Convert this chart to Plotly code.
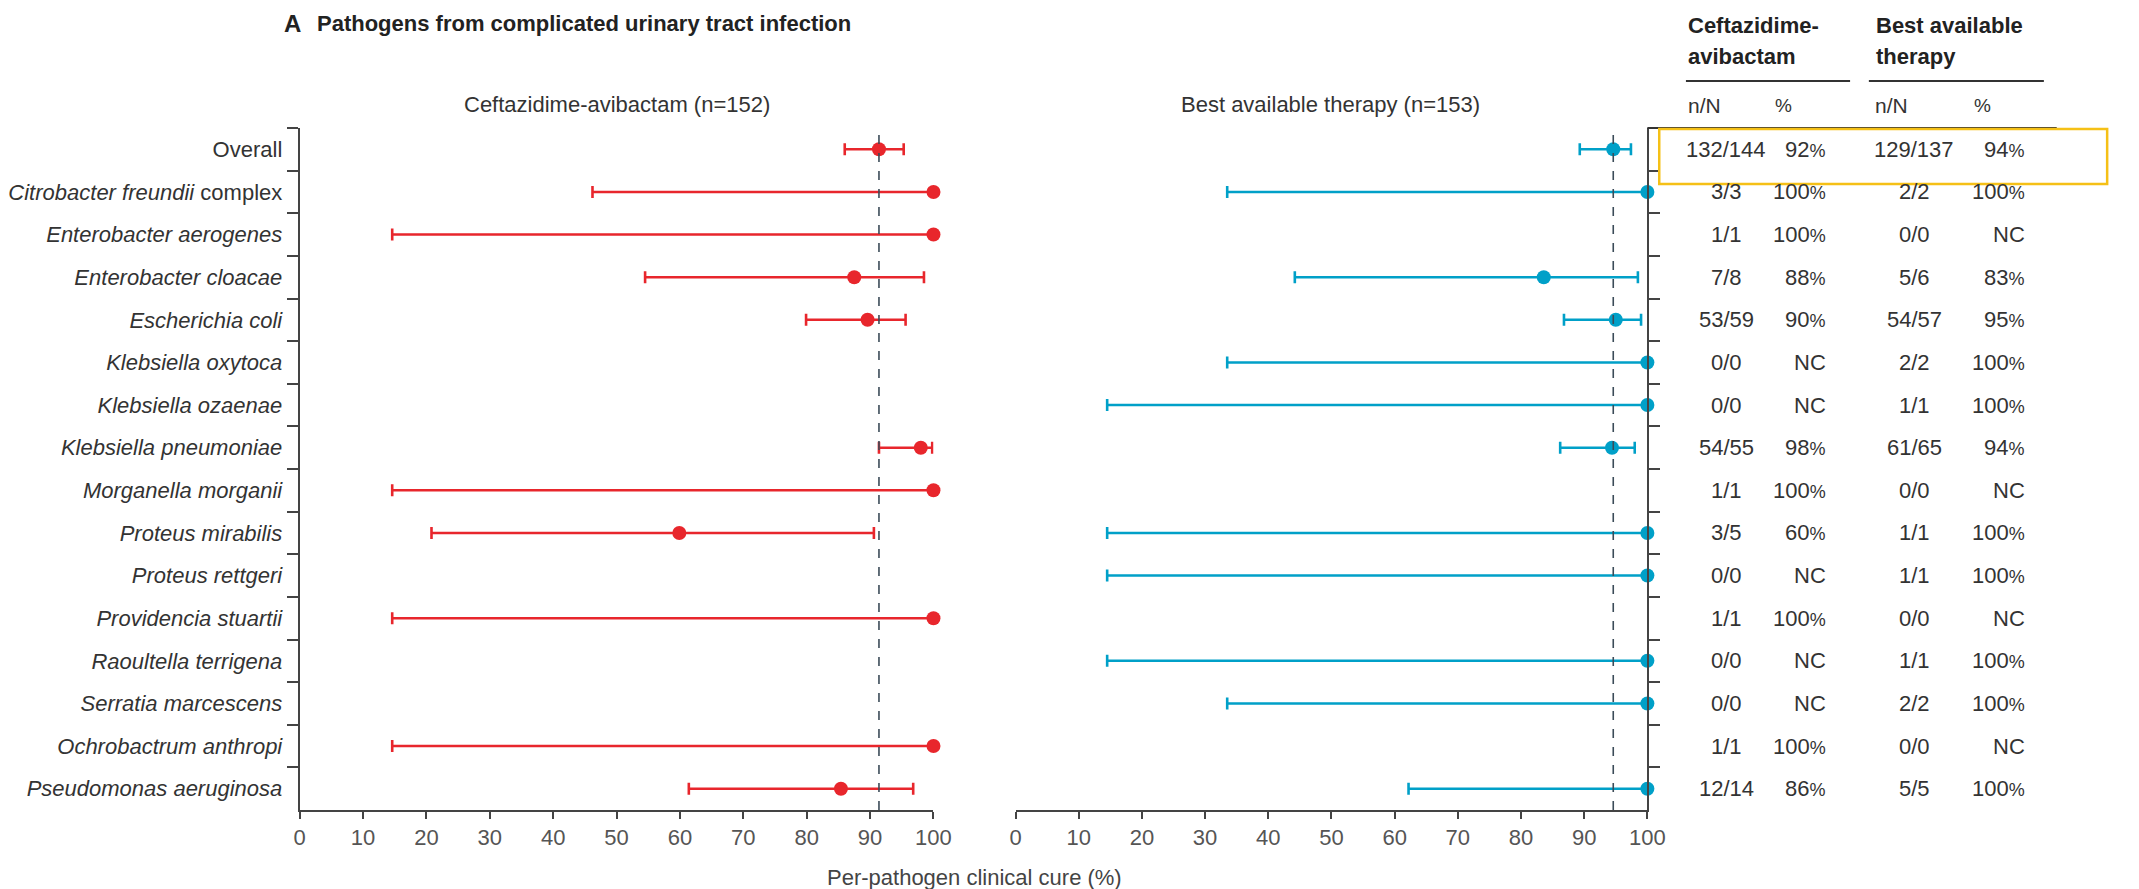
import plotly.graph_objects as go

W, H = 2139, 889

labels = [
    "Overall",
    "<i>Citrobacter freundii</i> complex",
    "<i>Enterobacter aerogenes</i>",
    "<i>Enterobacter cloacae</i>",
    "<i>Escherichia coli</i>",
    "<i>Klebsiella oxytoca</i>",
    "<i>Klebsiella ozaenae</i>",
    "<i>Klebsiella pneumoniae</i>",
    "<i>Morganella morganii</i>",
    "<i>Proteus mirabilis</i>",
    "<i>Proteus rettgeri</i>",
    "<i>Providencia stuartii</i>",
    "<i>Raoultella terrigena</i>",
    "<i>Serratia marcescens</i>",
    "<i>Ochrobactrum anthropi</i>",
    "<i>Pseudomonas aeruginosa</i>",
]

caz_pt = [91.4, 100, 100, 87.5, 89.6, None, None, 98.0, 100, 59.9, None, 100, None, None, 100, 85.4]
caz_lo = [86.0, 46.2, 14.6, 54.5, 79.9, None, None, 91.4, 14.6, 20.8, None, 14.6, None, None, 14.6, 61.4]
caz_hi = [95.3, 100, 100, 98.5, 95.6, None, None, 99.8, 100, 90.6, None, 100, None, None, 100, 96.8]

bat_pt = [94.6, 100, None, 83.6, 95.0, 100, 100, 94.4, None, 100, 100, None, 100, 100, None, 100]
bat_lo = [89.3, 33.5, None, 44.2, 86.8, 33.5, 14.5, 86.2, None, 14.5, 14.5, None, 14.5, 33.5, None, 62.2]
bat_hi = [97.4, 100, None, 98.5, 99.0, 100, 100, 98.0, None, 100, 100, None, 100, 100, None, 100]

caz_nN = ["132/144", "3/3", "1/1", "7/8", "53/59", "0/0", "0/0", "54/55", "1/1", "3/5", "0/0", "1/1", "0/0", "0/0", "1/1", "12/14"]
caz_pct = ["92%", "100%", "100%", "88%", "90%", "NC", "NC", "98%", "100%", "60%", "NC", "100%", "NC", "NC", "100%", "86%"]
bat_nN = ["129/137", "2/2", "0/0", "5/6", "54/57", "2/2", "1/1", "61/65", "0/0", "1/1", "1/1", "0/0", "1/1", "2/2", "0/0", "5/5"]
bat_pct = ["94%", "100%", "NC", "83%", "95%", "100%", "100%", "94%", "NC", "100%", "100%", "NC", "100%", "100%", "NC", "100%"]

x_ticks = [0, 10, 20, 30, 40, 50, 60, 70, 80, 90, 100]

RED = "#E8262C"
BLUE = "#00A0C8"
FONT = "Liberation Sans, Arial, sans-serif"
TXT = "#333333"
AX = "#444444"


def px(x):
    return x / W


def py(y):
    return 1 - y / H


def series(pt, lo, hi):
    ys, xs, plus, minus = [], [], [], []
    for lab, p, l, h in zip(labels, pt, lo, hi):
        if p is None:
            continue
        ys.append(lab)
        xs.append(p)
        plus.append(h - p)
        minus.append(p - l)
    return ys, xs, plus, minus


fig = go.Figure()

for pt, lo, hi, color, xa, ya in [
    (caz_pt, caz_lo, caz_hi, RED, "x", "y"),
    (bat_pt, bat_lo, bat_hi, BLUE, "x2", "y2"),
]:
    ys, xs, plus, minus = series(pt, lo, hi)
    fig.add_trace(go.Scatter(
        x=xs, y=ys, mode="markers", xaxis=xa, yaxis=ya,
        marker=dict(color=color, size=14, symbol="circle"),
        error_x=dict(type="data", symmetric=False, array=plus, arrayminus=minus,
                     color=color, thickness=2.6, width=6),
        cliponaxis=False, showlegend=False, hoverinfo="skip",
    ))

ydom = [py(810), py(128)]
x1dom = [px(297), px(938)]
x2dom = [px(1021), px(1660)]

xcommon = dict(range=[0, 100], tickvals=x_ticks, ticks="outside", ticklen=7, tickwidth=2,
               tickcolor=AX, showline=True, linecolor=AX, linewidth=2, showgrid=False,
               zeroline=False, tickfont=dict(family=FONT, size=22, color="#555555"))
ycommon = dict(type="category", categoryorder="array", categoryarray=labels,
               range=[len(labels) - 0.5, -0.5], tickson="boundaries", ticks="outside",
               ticklen=11, tickwidth=2, tickcolor=AX, showline=True, linecolor=AX,
               linewidth=2, showgrid=False, zeroline=False, domain=ydom)

fig.update_layout(
    width=W, height=H, margin=dict(l=0, r=0, t=0, b=0),
    plot_bgcolor="white", paper_bgcolor="white",
    font=dict(family=FONT, color=TXT),
    xaxis=dict(domain=x1dom, anchor="y", **xcommon),
    xaxis2=dict(domain=x2dom, anchor="y2", **xcommon),
    yaxis=dict(anchor="x", side="left", showticklabels=True, ticklabelstandoff=11,
               tickfont=dict(family=FONT, size=22, color=TXT), **ycommon),
    yaxis2=dict(anchor="x2", side="right", showticklabels=False, **ycommon),
)

# reference lines at overall values
for xref, yref, v in [("x", "y domain", caz_pt[0]), ("x2", "y2 domain", bat_pt[0])]:
    fig.add_shape(type="line", xref=xref, yref=yref, x0=v, x1=v, y0=0, y1=1,
                  line=dict(color="#3B4B58", width=1.6, dash="dash"))

ann = []


def text(x, y, s, size=22, anchor="left", bold=False, color=TXT, yref="paper"):
    ann.append(dict(x=px(x), y=(py(y) if yref == "paper" else y), xref="paper", yref=yref,
                    text=(f"<b>{s}</b>" if bold else s), showarrow=False,
                    xanchor=anchor, yanchor="middle",
                    font=dict(family=FONT, size=size, color=color)))


# title
text(279, 23, "A", size=24, bold=True, color="#222222")
text(313, 23, "Pathogens from complicated urinary tract infection", size=22, bold=True, color="#222222")
# panel titles
text(618, 104, "Ceftazidime-avibactam (n=152)", anchor="center")
text(1340, 104, "Best available therapy (n=153)", anchor="center")
# x-axis title
text(979, 877, "Per-pathogen clinical cure (%)", anchor="center", color="#444444")

# table headers
text(1699, 25, "Ceftazidime-", bold=True, color="#222222")
text(1699, 57, "avibactam", bold=True, color="#222222")
text(1889, 25, "Best available", bold=True, color="#222222")
text(1889, 57, "therapy", bold=True, color="#222222")
text(1699, 105, "n/N", size=21)
text(1787, 105, "%", size=19)
text(1888, 105, "n/N", size=21)
text(1988, 105, "%", size=19)


def pct_fmt(s):
    if s.endswith("%"):
        return s[:-1] + "<span style='font-size:18px'>%</span>"
    return s


for lab, a, b, c, d in zip(labels, caz_nN, caz_pct, bat_nN, bat_pct):
    text(1740, lab, a, anchor="center", yref="y")
    text(1843, lab, pct_fmt(b), anchor="right", yref="y")
    text(1930, lab, c, anchor="center", yref="y")
    text(2044, lab, pct_fmt(d), anchor="right", yref="y")

fig.update_layout(annotations=ann)

# table lines
for x0, x1, y in [(1699, 1865, 81), (1884, 2061, 81), (1660, 2074, 128)]:
    fig.add_shape(type="line", xref="paper", yref="paper", x0=px(x0), x1=px(x1),
                  y0=py(y), y1=py(y), line=dict(color="#333333", width=2))
# highlight box
fig.add_shape(type="rect", xref="paper", yref="paper", x0=px(1672), x1=px(2125),
              y0=py(184), y1=py(129), line=dict(color="#F5C016", width=2.5))

fig.write_html("out.html")
